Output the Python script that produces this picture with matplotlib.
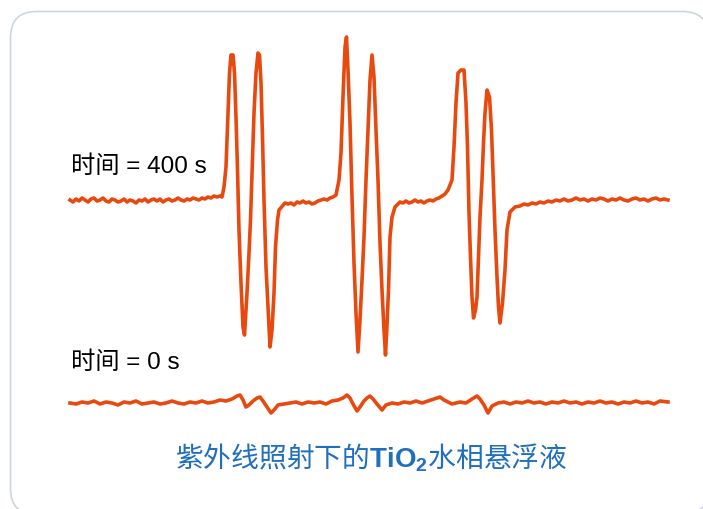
import numpy as np
import matplotlib
matplotlib.use("Agg")
import matplotlib.pyplot as plt
from matplotlib.patches import FancyBboxPatch

plt.rcParams['font.family'] = ['Liberation Sans', 'Noto Sans CJK SC', 'DejaVu Sans']
plt.rcParams['mathtext.fontset'] = 'custom'
plt.rcParams['mathtext.rm'] = 'Liberation Sans'
plt.rcParams['mathtext.bf'] = 'Liberation Sans:bold'

# EPR spectrum, t = 400 s (field in G, intensity in a.u.)
field_400 = [
    # flat part before the first pair
    3480.0, 3480.3, 3480.6, 3480.9, 3481.2, 3481.5, 3481.8, 3482.1, 3482.4, 3482.7,
    3483.0, 3483.3, 3483.6, 3483.9, 3484.2, 3484.5, 3484.8, 3485.1, 3485.4, 3485.7,
    3486.0, 3486.3, 3486.6, 3486.9, 3487.2, 3487.5, 3487.8, 3488.1, 3488.4, 3488.7,
    3489.0, 3489.3, 3489.6, 3489.9, 3490.2, 3490.5, 3490.8, 3491.1, 3491.4, 3491.7,
    3492.0, 3492.3, 3492.6, 3492.9, 3493.2, 3493.5, 3493.8, 3494.1, 3494.4, 3494.7,
    3495.0,
    # pair 1
    3495.2, 3495.4, 3495.6, 3495.75, 3495.95, 3496.1, 3496.3, 3496.45, 3496.6, 3496.75,
    3496.9, 3497.1, 3497.3, 3497.45, 3497.7, 3497.9, 3498.05, 3498.2, 3498.4, 3498.6,
    3498.8, 3498.95, 3499.1, 3499.25, 3499.4, 3499.6, 3499.8, 3500.0, 3500.2, 3500.4,
    3500.55, 3500.75, 3500.9, 3501.5,
    3501.8, 3502.1, 3502.4, 3502.7, 3503.0, 3503.3, 3503.6, 3503.9, 3504.2, 3504.5,
    3504.8, 3505.1, 3505.4, 3505.7, 3506.0, 3506.3,
    # pair 2
    3506.6, 3506.9, 3507.1, 3507.3, 3507.5, 3507.65, 3507.8, 3508.0, 3508.2, 3508.4,
    3508.6, 3508.8, 3509.0, 3509.2, 3509.4, 3509.6, 3509.8, 3510.0, 3510.2, 3510.4,
    3510.6, 3510.8, 3511.0, 3511.2, 3511.4, 3511.55, 3511.7, 3511.85, 3512.0, 3512.2,
    3512.5, 3513.0,
    3513.3, 3513.6, 3513.9, 3514.2, 3514.5, 3514.8, 3515.1, 3515.4, 3515.7, 3516.0,
    3516.3, 3516.6, 3516.9, 3517.2, 3517.5,
    # pair 3
    3517.8, 3518.2, 3518.4, 3518.6, 3518.8, 3519.1, 3519.4, 3519.6, 3519.75, 3519.9,
    3520.05, 3520.2, 3520.35, 3520.55, 3520.7, 3520.85, 3521.0, 3521.2, 3521.35, 3521.5,
    3521.7, 3521.95, 3522.15, 3522.3, 3522.5, 3522.7, 3522.85, 3523.0, 3523.25, 3523.5,
    3523.7, 3524.0, 3524.5,
    # flat tail
    3525.0, 3525.4, 3525.8, 3526.2, 3526.6, 3527.0, 3527.4, 3527.8, 3528.2, 3528.6,
    3529.0, 3529.4, 3529.8, 3530.2, 3530.6, 3531.0, 3531.4, 3531.8, 3532.2, 3532.6,
    3533.0, 3533.4, 3533.8, 3534.2, 3534.6, 3535.0, 3535.4, 3535.8, 3536.2, 3536.6,
    3537.0, 3537.4, 3537.8, 3538.2, 3538.6, 3539.0, 3539.4, 3539.8,
]
signal_400 = [
    0.00, -0.02, 0.01, -0.01, 0.02, 0.00, -0.02, 0.01, 0.02, -0.01,
    0.00, 0.02, -0.01, -0.02, 0.01, 0.00, -0.02, -0.01, 0.01, -0.02,
    0.00, -0.01, -0.03, 0.00, -0.01, 0.01, -0.02, 0.00, 0.01, -0.01,
    0.01, -0.02, 0.00, 0.01, -0.01, 0.00, 0.02, 0.00, -0.01, 0.01,
    0.00, 0.02, 0.01, 0.00, 0.02, 0.01, 0.03, 0.02, 0.04, 0.03,
    0.04,
    0.03, 0.13, 0.33, 0.73, 1.27, 1.45, 1.45, 1.27, 0.83, 0.30,
    -0.30, -0.83, -1.27, -1.35, -0.93, -0.53, -0.20, 0.27, 0.87, 1.27,
    1.47, 1.45, 1.17, 0.63, 0.00, -0.67, -1.07, -1.47, -1.30, -0.93,
    -0.47, -0.20, -0.10, -0.03,
    -0.04, -0.03, -0.05, -0.02, -0.03, -0.01, -0.03, -0.02, -0.04, -0.03,
    -0.01, 0.00, 0.01, 0.00, 0.02, 0.03,
    0.05, 0.20, 0.47, 1.03, 1.53, 1.63, 1.30, 0.77, 0.03, -0.63,
    -1.13, -1.52, -1.20, -0.80, -0.37, 0.20, 0.70, 1.20, 1.45, 1.23,
    0.70, 0.20, -0.43, -0.90, -1.30, -1.55, -1.25, -0.90, -0.37, -0.17,
    -0.07, -0.02,
    -0.03, -0.01, -0.03, -0.02, 0.00, -0.02, -0.01, -0.03, -0.01, 0.00,
    -0.01, 0.01, 0.02, 0.04, 0.06,
    0.10, 0.20, 0.53, 0.97, 1.27, 1.30, 1.30, 0.97, 0.53, -0.13,
    -0.57, -0.97, -1.18, -1.10, -0.97, -0.57, -0.17, 0.20, 0.57, 0.87,
    1.10, 1.03, 0.70, 0.27, -0.30, -0.77, -1.07, -1.23, -1.03, -0.70,
    -0.30, -0.12, -0.07,
    -0.06, -0.04, -0.05, -0.03, -0.04, -0.02, -0.03, -0.01, -0.02, 0.00,
    -0.01, 0.01, -0.01, 0.00, 0.02, 0.00, 0.01, -0.01, 0.01, 0.00,
    0.02, 0.01, -0.01, 0.01, 0.00, 0.02, 0.00, -0.01, 0.01, 0.02,
    0.00, 0.01, -0.01, 0.01, 0.02, 0.00, 0.01, 0.00,
]

# EPR spectrum, t = 0 s
field_0 = [
    3480.0, 3480.6, 3481.2, 3481.8, 3482.4, 3483.0, 3483.6, 3484.2, 3484.8, 3485.4,
    3486.0, 3486.6, 3487.2, 3487.8, 3488.4, 3489.0, 3489.6, 3490.2, 3490.8, 3491.4,
    3492.0, 3492.6, 3493.2, 3493.8, 3494.4, 3495.0, 3495.6, 3496.2, 3496.7, 3497.0,
    3497.3, 3497.6, 3497.9, 3498.3, 3498.7, 3499.0, 3499.3, 3499.7, 3500.1, 3500.4,
    3500.8, 3501.4, 3502.0, 3502.6, 3503.2, 3503.8, 3504.4, 3505.0, 3505.6, 3506.2,
    3506.8, 3507.3, 3507.7, 3508.0, 3508.3, 3508.7, 3509.0, 3509.4, 3509.7, 3510.0,
    3510.3, 3510.7, 3511.2, 3511.6, 3512.2, 3512.8, 3513.4, 3514.0, 3514.6, 3515.2,
    3515.8, 3516.4, 3517.0, 3517.4, 3517.8, 3518.2, 3518.6, 3519.0, 3519.6, 3520.2,
    3520.7, 3521.0, 3521.4, 3521.8, 3522.2, 3522.8, 3523.4, 3524.0, 3524.6, 3525.2,
    3525.8, 3526.4, 3527.0, 3527.6, 3528.2, 3528.8, 3529.4, 3530.0, 3530.6, 3531.2,
    3531.8, 3532.4, 3533.0, 3533.6, 3534.2, 3534.8, 3535.4, 3536.0, 3536.6, 3537.2,
    3537.8, 3538.4, 3539.0, 3539.8,
]
signal_0 = [
    0.00, -0.01, 0.01, 0.00, 0.02, -0.01, 0.01, 0.00, -0.02, 0.01,
    0.00, 0.02, -0.01, 0.00, 0.01, -0.01, 0.00, 0.02, 0.00, -0.01,
    0.01, 0.00, 0.02, 0.00, 0.01, 0.03, 0.02, 0.04, 0.07, 0.08,
    0.03, -0.04, -0.02, 0.02, 0.05, 0.06, 0.02, -0.04, -0.10, -0.07,
    -0.02, -0.01, 0.00, 0.01, -0.01, 0.01, 0.00, 0.01, -0.01, 0.02,
    0.03, 0.05, 0.08, 0.05, -0.01, -0.08, -0.04, 0.02, 0.05, 0.07,
    0.04, -0.01, -0.07, -0.02, 0.00, -0.01, 0.01, 0.00, 0.02, 0.00,
    0.02, 0.04, 0.06, 0.03, 0.01, -0.01, 0.00, 0.01, 0.00, 0.04,
    0.07, 0.04, -0.02, -0.10, -0.03, 0.00, 0.01, -0.01, 0.01, 0.00,
    0.02, 0.00, 0.01, -0.01, 0.01, 0.00, 0.02, 0.00, 0.01, -0.01,
    0.01, 0.00, 0.02, 0.00, 0.01, -0.01, 0.01, 0.00, 0.02, 0.00,
    0.01, -0.01, 0.02, 0.01,
]

labels = ["时间 = 400 s", "时间 = 0 s"]
title = "紫外线照射下的$\\mathbf{TiO_2}$水相悬浮液"
line_color = "#e8490f"
offset_0 = -2.03

fig = plt.figure(figsize=(7.03, 5.09), dpi=100)
fig.patch.set_facecolor("white")

# rounded card frame (right edge runs off the image)
bg = fig.add_axes([0, 0, 1, 1])
bg.set_xlim(0, 703)
bg.set_ylim(509, 0)
bg.axis("off")
bg.add_patch(FancyBboxPatch((10.5, 11.5), 698, 503,
                            boxstyle="round,pad=0,rounding_size=26",
                            fc="white", ec="#cdd6e0", lw=1.2))

ax = fig.add_axes([0, 0, 1, 1])
ax.set_xlim(3473.0, 3543.3)
ax.set_ylim(-3.09, 2.00)
ax.axis("off")

ax.plot(field_400, signal_400, color=line_color, lw=2.6)
ax.plot(field_0, np.array(signal_0) + offset_0, color=line_color, lw=2.6)

ax.text(3480.1, 0.33, labels[0], fontsize=17.5, va="center", ha="left", color="black")
ax.text(3480.1, -1.63, labels[1], fontsize=17.5, va="center", ha="left", color="black")
ax.text(3510.1, -2.58, title, fontsize=20, va="center", ha="center",
        color="#1f6fbe", family="Noto Sans CJK SC")

fig.savefig("out.png", dpi=100)
